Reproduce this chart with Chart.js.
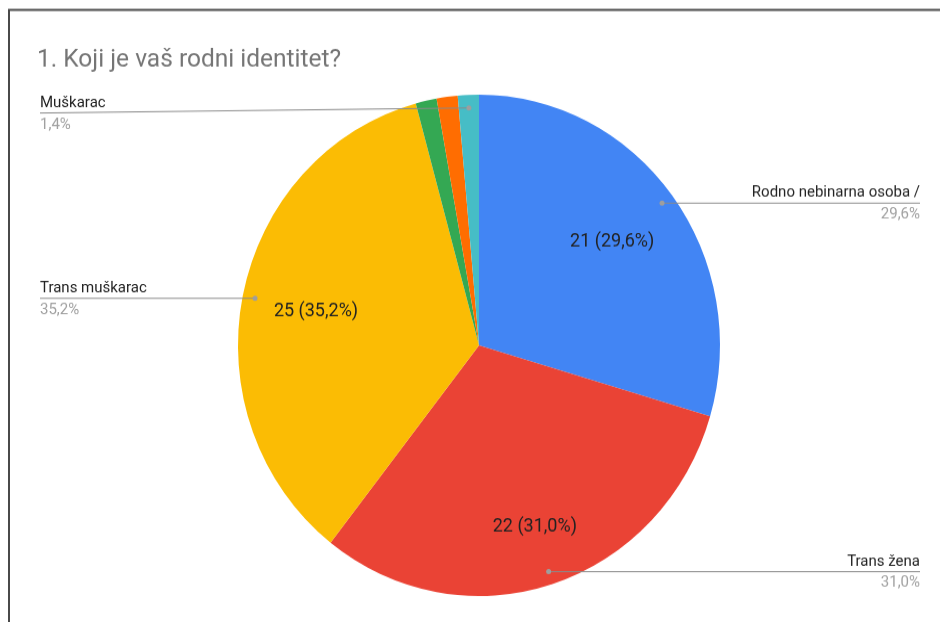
<!DOCTYPE html>
<html>
<head>
<meta charset="utf-8">
<script src="https://cdn.jsdelivr.net/npm/chart.js@4"></script>
<style>
    body { margin: 0; background: #fff; }
    #wrap { width: 940px; height: 622px; position: relative; }
    #myChart { display: block; }
</style>
</head>
<body>
<div id="wrap"><canvas id="myChart" width="940" height="598" style="width:940px;height:622px"></canvas></div>
<script>
// Dane wykresu
var title = '1. Koji je vaš rodni identitet?';
var categories = ['Rodno nebinarna osoba /', 'Trans žena', 'Trans muškarac', '', '', 'Muškarac'];
var counts = [21, 22, 25, 1, 1, 1];
var colors = ['#4285F4', '#EA4335', '#FBBC04', '#34A853', '#FF6D01', '#46BDC6'];

var total = counts.reduce(function (a, b) { return a + b }, 0);

function pct(v) {
    return (v / total * 100).toFixed(1).replace('.', ',');
}

// płótno jest rozciągnięte w pionie (tak jak na obrazku), więc y dzielimy przez SY
var SY = 622 / 598;

// gdzie stoją podpisy na zewnątrz (tylko dla tych kawałków, które mają podpis)
var outerLabels = {
    0: { side: 'right', x: 920 },
    1: { side: 'right', x: 920 },
    2: { side: 'left', x: 40 },
    5: { side: 'left', x: 40, lineY: 113 / SY }
};
var innerRadius = { 0: 0.69, 1: 0.76, 2: 0.69 };

var labelsPlugin = {
    id: 'labelsPlugin',
    afterDraw: function (chart) {
        var ctx = chart.ctx;
        ctx.save();

        // ramka
        ctx.strokeStyle = '#4a4a4a';
        ctx.lineWidth = 2;
        ctx.beginPath();
        ctx.moveTo(9, 622);
        ctx.lineTo(9, 10 / SY);
        ctx.lineTo(940, 10 / SY);
        ctx.stroke();

        // tytuł
        ctx.fillStyle = '#757575';
        ctx.font = '24.5px Roboto';
        ctx.textAlign = 'left';
        ctx.textBaseline = 'alphabetic';
        ctx.fillText(title, 37, 67 / SY);

        var arcs = chart.getDatasetMeta(0).data;
        arcs.forEach(function (arc, i) {
            var mid = (arc.startAngle + arc.endAngle) / 2;
            var v = counts[i];

            // podpis w środku
            if (innerRadius[i]) {
                var r = arc.outerRadius * innerRadius[i];
                ctx.fillStyle = '#222';
                ctx.font = '18px Roboto';
                ctx.textAlign = 'center';
                ctx.textBaseline = 'middle';
                ctx.fillText(v + ' (' + pct(v) + '%)', arc.x + Math.cos(mid) * r, arc.y + Math.sin(mid) * r);
            }

            var lab = outerLabels[i];
            if (!lab) return;
            var dr = arc.outerRadius * 0.948;
            var dx = arc.x + Math.cos(mid) * dr;
            var dy = arc.y + Math.sin(mid) * dr;
            var ly = lab.lineY || dy;

            ctx.strokeStyle = '#8a8a8a';
            ctx.lineWidth = 1;
            ctx.beginPath();
            ctx.moveTo(lab.x, ly);
            ctx.lineTo(dx, dy);
            ctx.stroke();

            ctx.fillStyle = '#9e9e9e';
            ctx.beginPath();
            ctx.arc(dx, dy, 2.5, 0, Math.PI * 2);
            ctx.fill();

            ctx.textAlign = lab.side === 'right' ? 'right' : 'left';
            ctx.textBaseline = 'alphabetic';
            ctx.font = '15px Roboto';
            ctx.fillStyle = '#222';
            ctx.fillText(categories[i], lab.x, ly - 6 / SY);
            ctx.fillStyle = '#a0a0a0';
            ctx.fillText(pct(v) + '%', lab.x, ly + 15.5 / SY);
        });
        ctx.restore();
    }
};

var ctx = document.getElementById('myChart').getContext('2d');

var chart = new Chart(ctx, {
    type: 'pie',
    data: {
        labels: categories,
        datasets: [{
            data: counts,
            backgroundColor: colors,
            borderWidth: 0
        }]
    },
    options: {
        responsive: false,
        animation: false,
        devicePixelRatio: 1,
        layout: {
            padding: { top: 91, bottom: 25, left: 238, right: 220 }
        },
        plugins: {
            legend: { display: false },
            tooltip: { enabled: false }
        }
    },
    plugins: [labelsPlugin]
});
</script>
</body>
</html>
